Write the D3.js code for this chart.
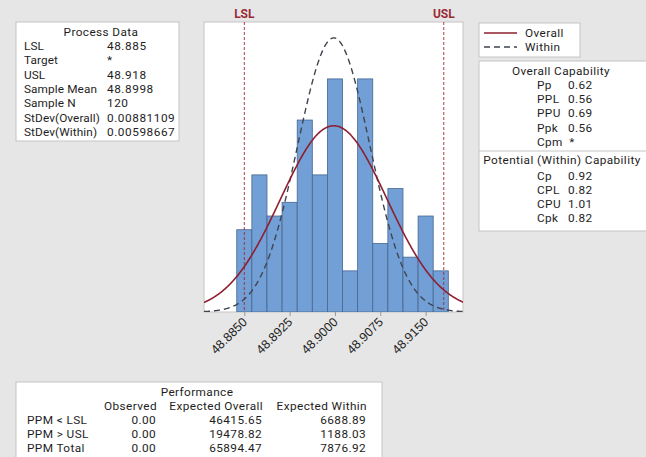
<!DOCTYPE html>
<html>
<head>
<meta charset="utf-8">
<script src="https://cdn.jsdelivr.net/npm/d3@7"></script>
<style>
  html, body { margin: 0; padding: 0; background: #e6e6e6; }
  svg { display: block; font-family: Roboto, "Noto Sans", sans-serif; }
  text { fill: #1e1e1e; }
  .t { font-size: 11.8px; letter-spacing: 0.4px; }
  .plain { letter-spacing: 0.1px; }
  .num { letter-spacing: 0.55px; }
</style>
</head>
<body>
<svg id="chart" width="646" height="457"></svg>
<script>
// Histogram bins (bin centres) and observed counts
const binCenters = [48.885, 48.8875, 48.89, 48.8925, 48.895, 48.8975, 48.9, 48.9025,
                    48.905, 48.9075, 48.91, 48.9125, 48.915, 48.9175];
const binCounts = [6, 10, 7, 8, 14, 10, 17, 3, 17, 5, 9, 4, 7, 3];
const binWidth = 0.0025;

// Specification limits and process statistics
const lsl = 48.885;
const usl = 48.918;
const sampleMean = 48.8998;
const sampleN = 120;
const stdevOverall = 0.00881109;
const stdevWithin = 0.00598667;

const xTicks = [48.885, 48.8925, 48.9, 48.9075, 48.915];

// Text tables
const processLabels = ["LSL", "Target", "USL", "Sample Mean", "Sample N", "StDev(Overall)", "StDev(Within)"];
const processValues = ["48.885", "*", "48.918", "48.8998", "120", "0.00881109", "0.00598667"];

const overallLabels = ["Pp", "PPL", "PPU", "Ppk", "Cpm"];
const overallValues = ["0.62", "0.56", "0.69", "0.56", "*"];
const withinLabels = ["Cp", "CPL", "CPU", "Cpk"];
const withinValues = ["0.92", "0.82", "1.01", "0.82"];

const perfColumns = ["Observed", "Expected Overall", "Expected Within"];
const perfRows = ["PPM < LSL", "PPM > USL", "PPM Total"];
const perfObserved = ["0.00", "0.00", "0.00"];
const perfOverall = ["46415.65", "19478.82", "65894.47"];
const perfWithin = ["6688.89", "1188.03", "7876.92"];

const svg = d3.select("#chart");
const boxStroke = "#c4c4c4";
const specColor = "#9a2a35";
const overallColor = "#8e1f30";
const withinColor = "#3f4550";

// ---- Histogram panel ----
const plot = { left: 204, right: 463, top: 22, bottom: 312 };
const x = d3.scaleLinear().domain([48.87833, 48.92118]).range([plot.left, plot.right]);
const y = d3.scaleLinear().domain([0, 21.15]).range([plot.bottom, plot.top]);

svg.append("rect")
  .attr("x", plot.left).attr("y", plot.top)
  .attr("width", plot.right - plot.left).attr("height", plot.bottom - plot.top)
  .attr("fill", "#fff").attr("stroke", boxStroke);

svg.append("clipPath").attr("id", "plotClip")
  .append("rect")
  .attr("x", plot.left).attr("y", plot.top)
  .attr("width", plot.right - plot.left).attr("height", plot.bottom - plot.top);

const g = svg.append("g").attr("clip-path", "url(#plotClip)");

g.selectAll("rect.bar")
  .data(binCenters.map((c, i) => ({ c, n: binCounts[i] })))
  .join("rect")
  .attr("class", "bar")
  .attr("x", d => x(d.c - binWidth / 2))
  .attr("width", d => x(d.c + binWidth / 2) - x(d.c - binWidth / 2))
  .attr("y", d => y(d.n))
  .attr("height", d => y(0) - y(d.n))
  .attr("fill", "#729fd6")
  .attr("stroke", "#46668f")
  .attr("stroke-width", 0.8);

// Spec limit reference lines
[lsl, usl].forEach(v => {
  g.append("line")
    .attr("x1", x(v)).attr("x2", x(v))
    .attr("y1", plot.top).attr("y2", plot.bottom)
    .attr("stroke", specColor).attr("stroke-width", 0.9)
    .attr("stroke-dasharray", "3,2");
});

// Fitted normal curves, scaled to expected counts per bin
function normalCurve(sd) {
  const [d0, d1] = x.domain();
  const xs = d3.range(0, 401).map(i => d0 + (d1 - d0) * i / 400);
  return xs.map(v => [v, sampleN * binWidth * Math.exp(-0.5 * ((v - sampleMean) / sd) ** 2) / (sd * Math.sqrt(2 * Math.PI))]);
}
const line = d3.line().x(d => x(d[0])).y(d => y(d[1])).curve(d3.curveBasis);

g.append("path").datum(normalCurve(stdevWithin))
  .attr("d", line).attr("fill", "none")
  .attr("stroke", withinColor).attr("stroke-width", 1.4)
  .attr("stroke-dasharray", "6,4");

g.append("path").datum(normalCurve(stdevOverall))
  .attr("d", line).attr("fill", "none")
  .attr("stroke", overallColor).attr("stroke-width", 1.6);

// Spec labels above the frame
svg.append("text").attr("x", x(lsl)).attr("y", 18).attr("text-anchor", "middle")
  .style("fill", specColor).style("font-weight", "bold").style("font-size", "12px").text("LSL");
svg.append("text").attr("x", x(usl)).attr("y", 18).attr("text-anchor", "middle")
  .style("fill", specColor).style("font-weight", "bold").style("font-size", "12px").text("USL");

// X axis with rotated labels
const xAxis = d3.axisBottom(x).tickValues(xTicks).tickFormat(d3.format(".4f")).tickSize(4).tickSizeOuter(0);
const ax = svg.append("g").attr("transform", `translate(0,${plot.bottom})`).call(xAxis);
ax.select(".domain").remove();
ax.selectAll(".tick line").attr("stroke", "#999");
ax.selectAll(".tick text")
  .style("font-size", "12.5px").style("fill", "#1e1e1e")
  .attr("font-family", null)
  .attr("text-anchor", "end")
  .attr("dy", "0.35em")
  .attr("transform", "translate(0,2) rotate(-45)")
  .attr("x", -4).attr("y", 4);

function label(sel, xx, yy, txt, anchor, cls) {
  return sel.append("text").attr("class", "t" + (cls ? " " + cls : "")).attr("x", xx).attr("y", yy)
    .attr("text-anchor", anchor || "start").text(txt);
}

// ---- Process Data panel ----
const pd = svg.append("g");
pd.append("rect").attr("x", 16).attr("y", 22).attr("width", 163).attr("height", 119)
  .attr("fill", "#fff").attr("stroke", boxStroke);
label(pd, 101, 36, "Process Data", "middle");
processLabels.forEach((t, i) => {
  label(pd, 24, 50 + i * 14.3, t, "start", "plain");
  label(pd, 107, 50 + i * 14.3, processValues[i], "start", "num");
});

// ---- Legend ----
const lg = svg.append("g");
lg.append("rect").attr("x", 479).attr("y", 23).attr("width", 101).attr("height", 34)
  .attr("fill", "#fff").attr("stroke", boxStroke);
lg.append("line").attr("x1", 484).attr("x2", 517).attr("y1", 33).attr("y2", 33)
  .attr("stroke", overallColor).attr("stroke-width", 1.5);
lg.append("line").attr("x1", 484).attr("x2", 517).attr("y1", 47).attr("y2", 47)
  .attr("stroke", withinColor).attr("stroke-width", 1.4).attr("stroke-dasharray", "6,4");
label(lg, 525, 37, "Overall");
label(lg, 525, 51.2, "Within");

// ---- Capability panel ----
const cp = svg.append("g");
cp.append("rect").attr("x", 479).attr("y", 61).attr("width", 170).attr("height", 170)
  .attr("fill", "#fff").attr("stroke", boxStroke);
label(cp, 561, 75, "Overall Capability", "middle");
overallLabels.forEach((t, i) => {
  const yy = 89.2 + i * 14.1;
  label(cp, 537, yy, t);
  label(cp, overallValues[i] === "*" ? 572 : 568, yy, overallValues[i], overallValues[i] === "*" ? "middle" : "start");
});
cp.append("line").attr("x1", 479).attr("x2", 646).attr("y1", 151).attr("y2", 151).attr("stroke", boxStroke);
label(cp, 562, 164, "Potential (Within) Capability", "middle");
withinLabels.forEach((t, i) => {
  const yy = 180 + i * 14;
  label(cp, 537, yy, t);
  label(cp, 568, yy, withinValues[i]);
});

// ---- Performance panel ----
const pf = svg.append("g");
pf.append("rect").attr("x", 16).attr("y", 382).attr("width", 366).attr("height", 80)
  .attr("fill", "#fff").attr("stroke", boxStroke);
label(pf, 197, 396, "Performance", "middle");
const colRight = [157, 263, 367];
perfColumns.forEach((t, j) => label(pf, colRight[j], 410.1, t, "end"));
const perfData = [perfObserved, perfOverall, perfWithin];
perfRows.forEach((r, i) => {
  const yy = 424.2 + i * 14.1;
  label(pf, 27, yy, r);
  perfData.forEach((col, j) => label(pf, colRight[j] - 1, yy, col[i], "end"));
});
</script>
</body>
</html>
